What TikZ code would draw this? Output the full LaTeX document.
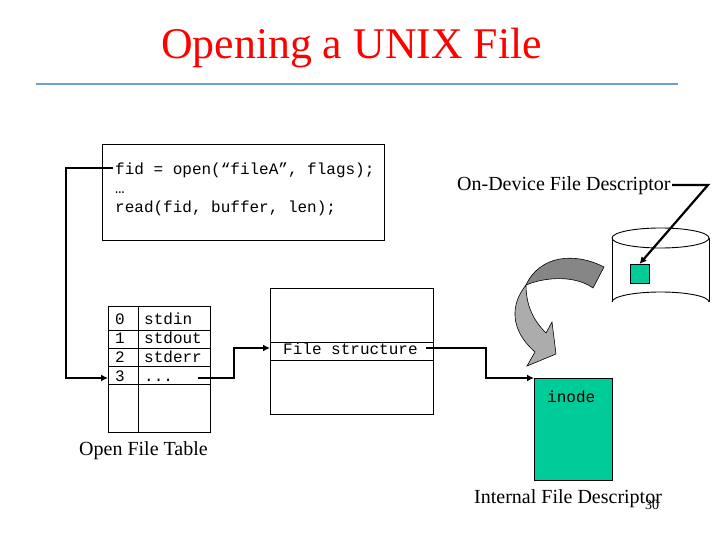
\documentclass[tikz,border=0pt]{standalone}
\usepackage{fontspec}
\setmainfont{Liberation Serif}
\setmonofont{Liberation Mono}
\usetikzlibrary{arrows.meta}
\definecolor{teal}{RGB}{0,204,153}
\definecolor{rulec}{RGB}{110,160,200}
\tikzset{
 box/.style={draw=black,line width=0.9pt,inner sep=0,outer sep=0,anchor=north west},
 code/.style={font=\ttfamily\fontsize{16}{18}\selectfont,anchor=base west,inner sep=0},
 lab/.style={font=\fontsize{20}{22}\selectfont,anchor=base west,inner sep=0},
 link/.style={draw=black,line width=2.2pt,-{Latex[length=7pt,width=7pt]}},
 thin line/.style={draw=black,line width=0.9pt}
}
\begin{document}
\begin{tikzpicture}[x=1pt,y=-1pt]
\useasboundingbox (0,0) rectangle (720,540);
\fill[white] (0,0) rectangle (720,540);
% title
\node[font=\fontsize{43.8}{48}\selectfont,text=red,anchor=base west,inner sep=0] (title) at (161,59) {Opening a UNIX File};
\coordinate (ruleL) at (36,84); \coordinate (ruleR) at (678,84);
\draw[rulec,line width=1.5pt] (ruleL) -- (ruleR);
% code box
\node[box,minimum width=282pt,minimum height=96pt] (codebox) at (102,144) {};
\node[code] (c1) at (115,175) {fid = open(“fileA”, flags);};
\node[code] (c2) at (115,194) {…};
\node[code] (c3) at (115,212) {read(fid, buffer, len);};
% open file table
\node[box,minimum width=102pt,minimum height=126pt] (table) at (108,306) {};
\draw[thin line] (138,306) -- (138,432);
\foreach \y in {330,348,366,384} \draw[thin line] (108,\y) -- (210,\y);
\node[code] (n0) at (115,324) {0};
\node[code] (n1) at (115,343) {1};
\node[code] (n2) at (115,362) {2};
\node[code] (n3) at (115,381) {3};
\node[code] (s0) at (144,324) {stdin};
\node[code] (s1) at (144,343) {stdout};
\node[code] (s2) at (144,362) {stderr};
\node[code] (s3) at (144,381) {...};
\node[lab] (oft) at (79,455) {Open File Table};
% file structure
\node[box,minimum width=163pt,minimum height=126pt] (fs) at (270,288) {};
\draw[thin line] (270,342) -- (433,342);
\draw[thin line] (270,360) -- (433,360);
\node[code] (fstext) at (283,354) {File structure};
% inode
\node[box,fill=teal,minimum width=78pt,minimum height=102pt] (inode) at (534,378) {};
\node[code] (inodetext) at (547,402) {inode};
\node[lab] (ifd) at (474,503) {Internal File Descriptor};
\node[font=\fontsize{14}{16}\selectfont,anchor=base west,inner sep=0] (pg) at (645,509) {30};
% disk
\draw[thin line] (612,238) arc[start angle=180,end angle=360,x radius=48.5,y radius=10];
\draw[thin line] (612,238) arc[start angle=180,end angle=0,x radius=48.5,y radius=10];
\draw[thin line] (612,302) arc[start angle=180,end angle=360,x radius=48.5,y radius=10];
\draw[thin line] (612,238) -- (612,302);
\draw[thin line] (709,238) -- (709,302);
\node[box,fill=teal,minimum width=19pt,minimum height=19pt] (block) at (630,264) {};
\node[lab] (odfd) at (457,191) {On-Device File Descriptor};
% curved arrow
\fill[gray!95!white,draw=black,line width=0.6pt] (604,267)
  .. controls (575,252) and (540,255) .. (526,285)
  .. controls (545,277) and (575,275) .. (593,288) -- cycle;
\fill[gray!65!white,draw=black,line width=0.6pt] (526,285)
  .. controls (510,305) and (510,330) .. (535,352)
  -- (527,366) -- (556,354) -- (552,322) -- (546,333)
  .. controls (533,320) and (526,305) .. (526,285) -- cycle;
% connectors
\coordinate (a0) at (113,168);
\coordinate (a1) at (66,168);
\coordinate (a2) at (66,378);
\coordinate (a3) at (108,378);
\draw[link] (a0) -- (a1) -- (a2) -- (a3);
\coordinate (b0) at (198,378);
\coordinate (b1) at (234,378);
\coordinate (b2) at (234,348);
\coordinate (b3) at (270,348);
\draw[link] (b0) -- (b1) -- (b2) -- (b3);
\coordinate (d0) at (426,348);
\coordinate (d1) at (486,348);
\coordinate (d2) at (486,378);
\coordinate (d3) at (534,378);
\draw[link] (d0) -- (d1) -- (d2) -- (d3);
\coordinate (e0) at (672,185);
\coordinate (e1) at (708,185);
\draw[link] (e0) -- (e1) -- (block.north);
\end{tikzpicture}
\end{document}
